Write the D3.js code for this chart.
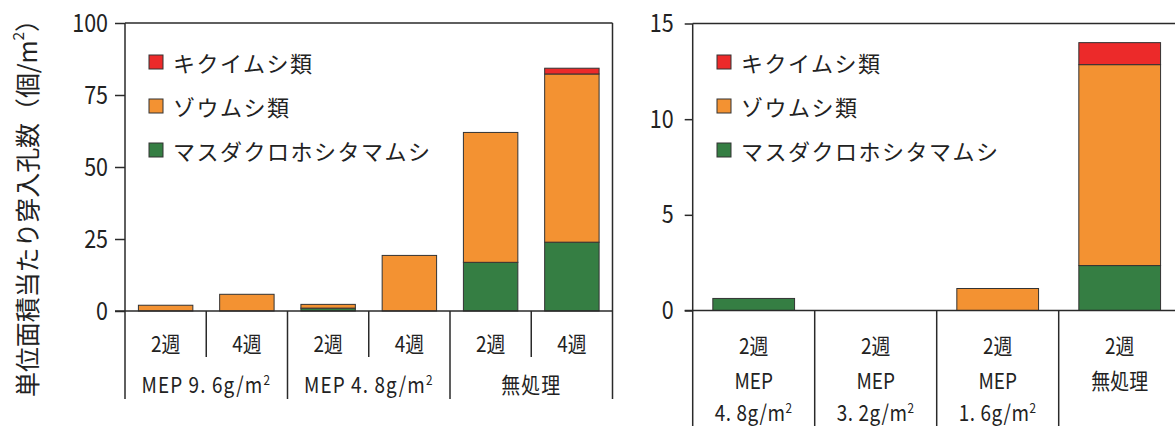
<!DOCTYPE html>
<html><head><meta charset="utf-8">
<script src="https://cdn.jsdelivr.net/npm/d3@7"></script>
<style>
body{margin:0;background:#fff;}
svg text{font-family:"Noto Sans CJK JP",sans-serif;fill:#222;}
</style></head><body>
<svg id="chart" width="1175" height="426"></svg>
<script>
// Series (stack order bottom -> top) and legend labels (top -> bottom)
const seriesKeys = ["green", "orange", "red"];
const seriesColors = {green: "#357e43", orange: "#f39232", red: "#ec2a2a"};
const legendKeys = ["red", "orange", "green"];
const legendLabels = ["キクイムシ類", "ゾウムシ類", "マスダクロホシタマムシ"];

// Left panel: MEP 9.6 / 4.8 g/m2 and untreated, 2 and 4 weeks
const leftWeeks = ["2週", "4週", "2週", "4週", "2週", "4週"];
const leftTreatments = [["MEP 9. 6g/m", "2"], ["MEP 4. 8g/m", "2"], ["無処理", ""]];
const leftGreen = [0, 0, 1.0, 0, 16.9, 23.9];
const leftOrange = [2.0, 5.8, 1.3, 19.3, 45.1, 58.4];
const leftRed = [0, 0, 0, 0, 0, 2.0];
const leftTicks = [0, 25, 50, 75, 100];

// Right panel: 2 weeks, MEP 4.8 / 3.2 / 1.6 g/m2 and untreated
const rightWeeks = ["2週", "2週", "2週", "2週"];
const rightTreatments = ["MEP", "MEP", "MEP", "無処理"];
const rightDoses = [["4. 8g/m", "2"], ["3. 2g/m", "2"], ["1. 6g/m", "2"], null];
const rightGreen = [0.63, 0, 0, 2.35];
const rightOrange = [0, 0, 1.15, 10.5];
const rightRed = [0, 0, 0, 1.15];
const rightTicks = [0, 5, 10, 15];

const yLabel = ["単位面積当たり穿入孔数（個/m", "2", "）"];

const svg = d3.select("#chart");
const ink = "#2a2a2a";
const narrow = 0.86;   // horizontal squeeze for the condensed numerals

function rows(green, orange, red) {
  return green.map((g, i) => ({i, green: g, orange: orange[i], red: red[i]}));
}

function supText(sel, parts, size) {
  sel.append("tspan").text(parts[0]);
  if (parts[1]) {
    sel.append("tspan").attr("font-size", size * 0.62).attr("dy", -size * 0.38).text(parts[1]);
  }
}

// centred text squeezed horizontally around its own anchor point
function narrowText(parent, cx, y, size) {
  return parent.append("text")
    .attr("transform", `translate(${cx},${y}) scale(${narrow},1)`)
    .attr("text-anchor", "middle").attr("font-size", size);
}

function panel(opt) {
  const g = svg.append("g");
  const n = opt.green.length;
  const x = d3.scaleBand().domain(d3.range(n)).range([opt.x0, opt.x1])
    .paddingInner(0.33).paddingOuter(0.165);
  const y = d3.scaleLinear().domain(opt.domain).range([opt.y0, opt.yTop]);
  const data = rows(opt.green, opt.orange, opt.red);
  const stacked = d3.stack().keys(seriesKeys)(data);

  // bars
  g.selectAll("g.layer").data(stacked).join("g").attr("class", "layer")
    .attr("fill", d => seriesColors[d.key])
    .selectAll("rect").data(d => d.filter(p => p[1] - p[0] > 0)).join("rect")
    .attr("x", d => x(d.data.i))
    .attr("width", x.bandwidth())
    .attr("y", d => y(d[1]))
    .attr("height", d => y(d[0]) - y(d[1]))
    .attr("stroke", "#333").attr("stroke-width", 1);

  // y axis with ticks
  const axis = d3.axisLeft(y).tickValues(opt.ticks).tickSize(opt.tickLen);
  const ag = g.append("g").attr("transform", `translate(${opt.x0},0)`).call(axis);
  ag.select(".domain").remove();
  ag.selectAll(".tick line").attr("stroke", ink).attr("stroke-width", 1.5);
  ag.selectAll(".tick text").attr("font-size", opt.tickFont).attr("fill", "#222")
    .attr("x", -opt.labelGap / narrow)
    .attr("transform", `scale(${narrow},1)`);

  // frame: y axis line, top line, baseline
  const step = x.step();
  const edge = i => opt.x0 + i * step;
  g.append("line").attr("x1", opt.x0).attr("x2", opt.x0).attr("y1", opt.yTop).attr("y2", opt.axisBottom)
    .attr("stroke", ink).attr("stroke-width", 1.5);
  g.append("line").attr("x1", opt.x0).attr("x2", opt.frameRight).attr("y1", opt.yTop).attr("y2", opt.yTop)
    .attr("stroke", ink).attr("stroke-width", 1.5);
  g.append("line").attr("x1", opt.x0 - opt.tickLen).attr("x2", opt.frameRight).attr("y1", opt.y0).attr("y2", opt.y0)
    .attr("stroke", ink).attr("stroke-width", 1.5);
  if (opt.rightBorder) {
    g.append("line").attr("x1", opt.x1).attr("x2", opt.x1).attr("y1", opt.yTop).attr("y2", opt.axisBottom)
      .attr("stroke", ink).attr("stroke-width", 1.5);
  }
  opt.separators.forEach(s => {
    g.append("line").attr("x1", edge(s.i)).attr("x2", edge(s.i)).attr("y1", opt.y0).attr("y2", s.bottom)
      .attr("stroke", ink).attr("stroke-width", 1.5);
  });

  // legend
  const lg = g.append("g");
  legendKeys.forEach((k, j) => {
    const cy = opt.legendY + j * 44;
    lg.append("rect").attr("x", opt.legendX).attr("y", cy - 7).attr("width", 14).attr("height", 14)
      .attr("fill", seriesColors[k]).attr("stroke", "#333").attr("stroke-width", 1);
    lg.append("text").attr("x", opt.legendX + 24).attr("y", cy).attr("dominant-baseline", "central")
      .attr("font-size", 22).attr("letter-spacing", 1.5).text(legendLabels[j]);
  });
  return {x, y, g, step, edge};
}

// ---- left panel ----
const L = panel({
  x0: 125, x1: 612.5, y0: 311, yTop: 23, domain: [0, 100], ticks: leftTicks, tickLen: 10, tickFont: 25,
  labelGap: 17,
  green: leftGreen, orange: leftOrange, red: leftRed,
  frameRight: 612.5, axisBottom: 399, rightBorder: true,
  separators: [{i: 1, bottom: 357}, {i: 2, bottom: 399}, {i: 3, bottom: 357}, {i: 4, bottom: 399}, {i: 5, bottom: 357}],
  legendX: 149, legendY: 62
});
leftWeeks.forEach((w, i) => {
  narrowText(L.g, L.x(i) + L.x.bandwidth() / 2, 352, 22).text(w);
});
leftTreatments.forEach((t, k) => {
  const t0 = narrowText(L.g, L.edge(2 * k) + L.step, 393, 22).attr("letter-spacing", 1.3);
  supText(t0, t, 22);
});

// ---- right panel ----
const R = panel({
  x0: 692.7, x1: 1180.7, y0: 310.5, yTop: 23.5, domain: [0, 15], ticks: rightTicks, tickLen: 8, tickFont: 25,
  labelGap: 19,
  green: rightGreen, orange: rightOrange, red: rightRed,
  frameRight: 1175, axisBottom: 426, rightBorder: false,
  separators: [{i: 1, bottom: 426}, {i: 2, bottom: 426}, {i: 3, bottom: 426}],
  legendX: 717, legendY: 62
});
rightWeeks.forEach((w, i) => {
  const cx = R.x(i) + R.x.bandwidth() / 2;
  narrowText(R.g, cx, 354, 22).text(w);
  narrowText(R.g, cx, 389, 22).text(rightTreatments[i]);
  if (rightDoses[i]) {
    supText(narrowText(R.g, cx, 421, 22).attr("letter-spacing", 0.6), rightDoses[i], 22);
  }
});

// ---- y axis title, fitted to the span of the plot ----
const yt = svg.append("text").attr("transform", "translate(26,202) rotate(-90)")
  .attr("text-anchor", "middle").attr("dominant-baseline", "central")
  .attr("font-size", 25);
supText(yt, yLabel.slice(0, 2), 25);
yt.append("tspan").attr("dy", 25 * 0.38).text(yLabel[2]);
const titleSpan = 390;
const chars = yLabel.join("").length;
const measured = yt.node().getBBox().width;
yt.attr("letter-spacing", (titleSpan - measured) / chars);
</script>
</body></html>
